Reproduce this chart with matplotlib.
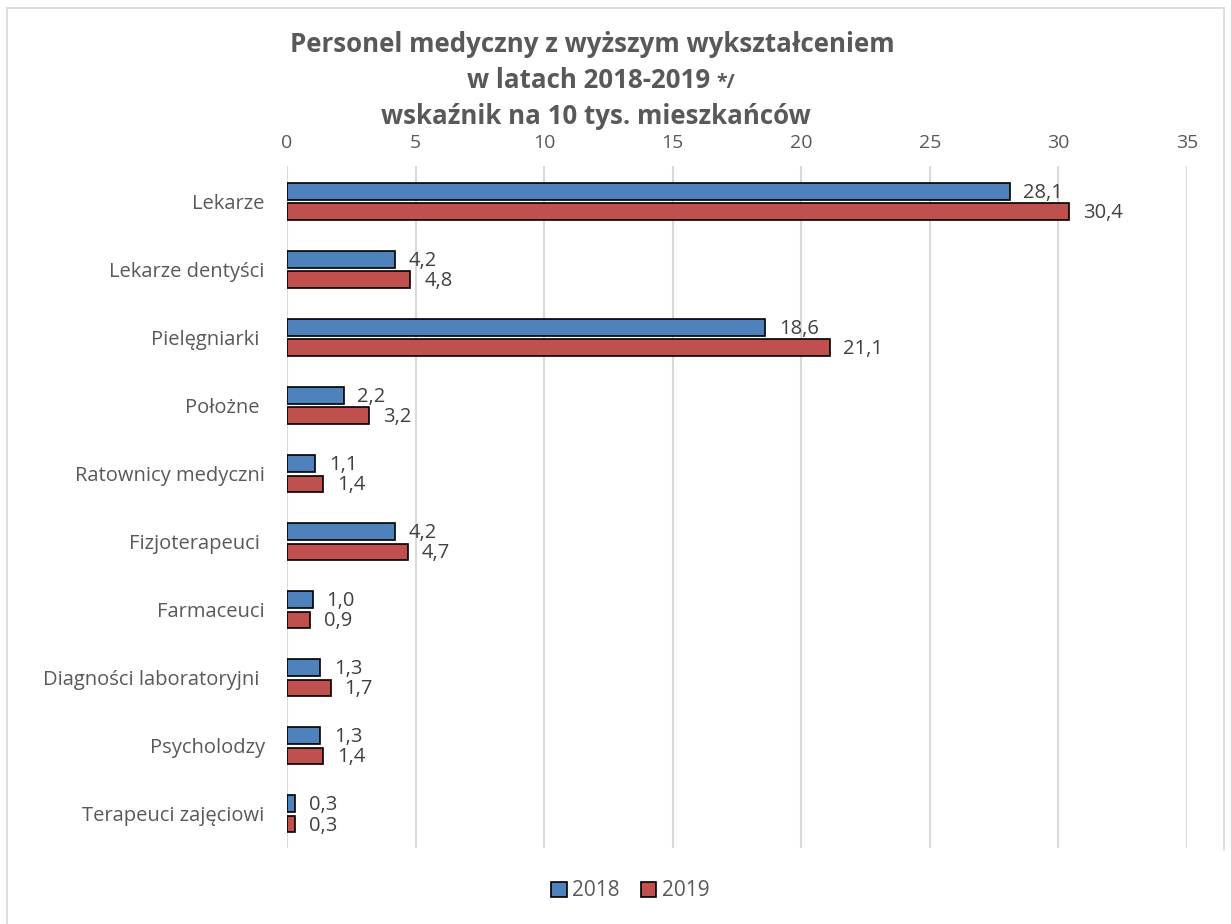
import numpy as np
import matplotlib
matplotlib.use("Agg")
import matplotlib.pyplot as plt
from matplotlib.lines import Line2D

plt.rcParams['font.family'] = ['Open Sans', 'DejaVu Sans']

categories = ["Lekarze", "Lekarze dentyści", "Pielęgniarki ", "Położne ",
              "Ratownicy medyczni", "Fizjoterapeuci ", "Farmaceuci",
              "Diagności laboratoryjni ", "Psycholodzy", "Terapeuci zajęciowi"]
v2018 = [28.1, 4.2, 18.6, 2.2, 1.1, 4.2, 1.0, 1.3, 1.3, 0.3]
v2019 = [30.4, 4.8, 21.1, 3.2, 1.4, 4.7, 0.9, 1.7, 1.4, 0.3]
years = ["2018", "2019"]
xticks = [0, 5, 10, 15, 20, 25, 30, 35]

blue = "#4F81BD"
red = "#C0504D"
grey = "#595959"

fig = plt.figure(figsize=(12.31, 9.24), dpi=100)
ax = fig.add_axes([0.2331, 0.0823, 0.7312, 0.7380])

y = np.arange(len(categories))
h = 0.245
b1 = ax.barh(y - 0.15, v2018, height=h, color=blue, edgecolor="black", linewidth=1.2, label=years[0], zorder=3)
b2 = ax.barh(y + 0.15, v2019, height=h, color=red, edgecolor="black", linewidth=1.2, label=years[1], zorder=3)

for bars, vals in ((b1, v2018), (b2, v2019)):
    for bar, v in zip(bars, vals):
        ax.annotate(f"{v:.1f}".replace(".", ","), (v, bar.get_y() + bar.get_height() / 2),
                    xytext=(10, -1), textcoords="offset points", ha="left", va="center",
                    fontsize=14.5, color="#404040")

ax.set_ylim(9.5, -0.52)
ax.set_xlim(0, 35)
ax.set_xticks(xticks)
ax.xaxis.tick_top()
ax.tick_params(axis="x", length=0, labelsize=14, labelcolor=grey, pad=10)
ax.set_yticks(y)
ax.set_yticklabels(categories)
ax.tick_params(axis="y", length=0, labelsize=14.5, labelcolor=grey, pad=16)
ax.grid(axis="x", color="#D9D9D9", linewidth=1.5, zorder=0)
for s in ax.spines.values():
    s.set_visible(False)

fig.text(0.481, 1 - 52 / 924, "Personel medyczny z wyższym wykształceniem", ha="center", va="baseline",
         fontsize=18.6, fontweight="bold", color=grey)
fig.text(0.577, 1 - 88 / 924, "w latach 2018-2019", ha="right", va="baseline",
         fontsize=18.6, fontweight="bold", color=grey)
fig.text(0.582, 1 - 88 / 924, "*/", ha="left", va="baseline",
         fontsize=14, fontweight="bold", color=grey)
fig.text(0.484, 1 - 124 / 924, "wskaźnik na 10 tys. mieszkańców", ha="center", va="baseline",
         fontsize=18.6, fontweight="bold", color=grey)

leg = fig.legend(loc="center", bbox_to_anchor=(0.512, 1 - 891 / 924), ncol=2, frameon=False,
                 fontsize=15, handlelength=0.75, handleheight=0.75, handletextpad=0.25,
                 columnspacing=1.0)
for t in leg.get_texts():
    t.set_color(grey)

# chart area frame
fig.lines.append(Line2D([0.006, 0.006], [0, 0.991], transform=fig.transFigure, color="#D9D9D9", linewidth=1.2))
fig.lines.append(Line2D([0.006, 0.994], [0.991, 0.991], transform=fig.transFigure, color="#D9D9D9", linewidth=1.2))
fig.lines.append(Line2D([0.994, 0.994], [0.08, 0.991], transform=fig.transFigure, color="#D9D9D9", linewidth=1.2))

fig.savefig("out.png", dpi=100)
